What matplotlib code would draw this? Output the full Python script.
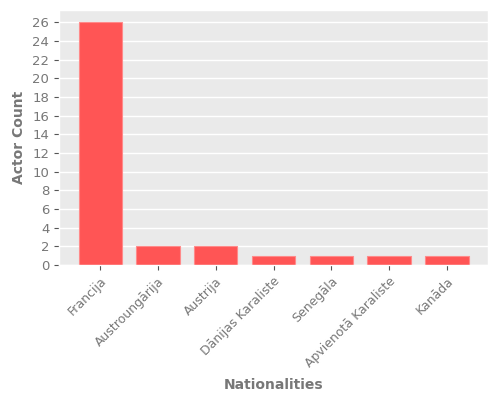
import matplotlib
matplotlib.use("Agg")
import matplotlib.pyplot as plt

plt.style.use("ggplot")

nationalities = ["Francija", "Austroungārija", "Austrija", "Dānijas Karaliste",
                 "Senegāla", "Apvienotā Karaliste", "Kanāda"]
counts = [26, 2, 2, 1, 1, 1, 1]

fig = plt.figure(figsize=(5, 4), dpi=100)
ax = fig.add_axes([0.118, 0.3375, 0.858, 0.6375])
ax.set_facecolor("#eaeaea")

ax.bar(range(len(nationalities)), counts, width=0.75,
       color="#ff5555", edgecolor="#ff8a8a", linewidth=0.8)

ax.grid(False)
ax.grid(axis="y", color="white", linewidth=1)
ax.set_axisbelow(True)

ax.set_xticks(range(len(nationalities)))
ax.set_xticklabels(nationalities, rotation=45, ha="right",
                   rotation_mode="anchor", fontsize=9, color="#777777")
ax.set_yticks(range(0, 27, 2))
ax.tick_params(axis="y", labelsize=9.5, labelcolor="#777777")

ax.set_xlabel("Nationalities", fontsize=10, fontweight="bold", color="#777777")
ax.set_ylabel("Actor Count", fontsize=10, fontweight="bold", color="#777777")
ax.xaxis.set_label_coords(0.5, -0.47)
ax.yaxis.set_label_coords(-0.093, 0.5)
ax.xaxis.label.set_va("center")
ax.yaxis.label.set_va("center")

fig.savefig("out.png", dpi=100)
